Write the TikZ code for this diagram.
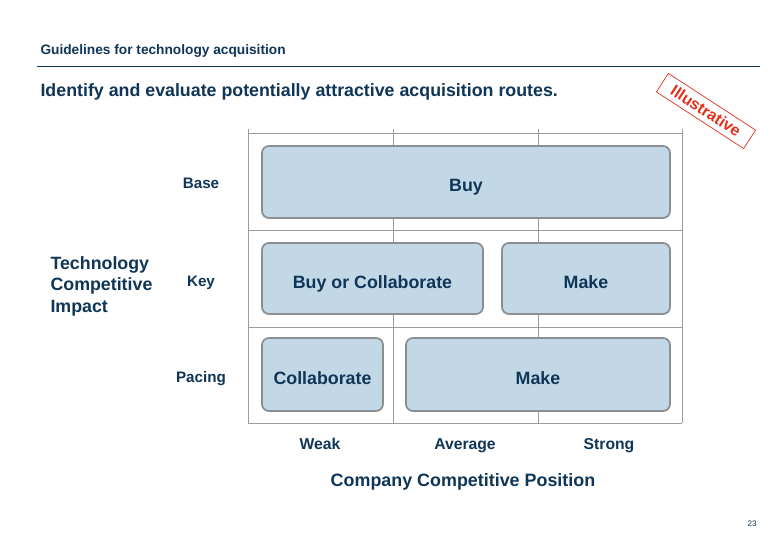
\documentclass[tikz,border=0pt]{standalone}
\usepackage{fontspec}
\setmainfont{Liberation Sans}
\definecolor{navy}{HTML}{0F3557}
\definecolor{boxfill}{HTML}{C3D8E7}
\definecolor{boxline}{HTML}{8A8D91}
\definecolor{gridline}{HTML}{9C9C9C}
\definecolor{stamp}{HTML}{E2301C}
\begin{document}
\begin{tikzpicture}[x=1pt,y=-1pt,
                    grid/.style={draw=gridline,line width=.6pt},
                    route/.style={draw=boxline,fill=boxfill,line width=1.7pt,rounded corners=7pt,
                                  text=navy,font=\fontsize{17.8}{20}\selectfont\bfseries,inner sep=0pt,
                                  text height=19.7pt,text depth=0pt},
                    rowlab/.style={anchor=base,text=navy,font=\fontsize{15.2}{18}\selectfont\bfseries},
                    collab/.style={anchor=base,text=navy,font=\fontsize{15.7}{18}\selectfont\bfseries},
                    every node/.style={text=navy}]
 \useasboundingbox[fill=white] (0,0) rectangle (780,540);
 % header
 \node[anchor=base west,font=\fontsize{13.7}{16}\selectfont\bfseries] (head) at (37,55) {Guidelines for technology acquisition};
 \draw[navy,line width=.8pt] (37,66) -- (760,66);
 \node[anchor=base west,font=\fontsize{17.8}{20}\selectfont\bfseries] (title) at (37,97) {Identify and evaluate potentially attractive acquisition routes.};
 % stamp
 \node[draw=stamp,line width=.7pt,text=stamp,rotate=-33,font=\fontsize{16}{18}\selectfont\bfseries,
       minimum width=104pt,minimum height=22pt] (illus) at (706,111) {Illustrative};
 % grid
 \foreach \y in {133,230,327,423} \draw[grid] (248,\y) -- (682,\y);
 \foreach \x in {248,393,538,682} \draw[grid] (\x,129) -- (\x,423);
 % routes
 \node[route,minimum width=408pt,minimum height=72pt] (buy) at (466,182) {Buy};
 \node[route,minimum width=221pt,minimum height=71pt] (buycol) at (372.5,278.5) {Buy or Collaborate};
 \node[route,minimum width=168pt,minimum height=71pt] (makekey) at (586,278.5) {Make};
 \node[route,minimum width=121pt,minimum height=73pt] (collab) at (322.5,374.5) {Collaborate};
 \node[route,minimum width=264pt,minimum height=73pt] (makepac) at (538,374.5) {Make};
 % row labels
 \node[rowlab] (base) at (201,189) {Base};
 \node[rowlab] (key) at (201,287) {Key};
 \node[rowlab] (pacing) at (201,383) {Pacing};
 \node[anchor=west,align=left,font=\fontsize{17.8}{21.5}\selectfont\bfseries] (impact) at (47,286) {Technology\\Competitive\\Impact};
 % column labels
 \node[collab] (weak) at (320,449) {Weak};
 \node[collab] (avg) at (465,449) {Average};
 \node[collab] (strong) at (609,449) {Strong};
 \node[anchor=base,font=\fontsize{17.9}{20}\selectfont\bfseries] (position) at (463,486) {Company Competitive Position};
 \node[font=\fontsize{8}{9}\selectfont] (page) at (752,524) {23};
\end{tikzpicture}
\end{document}
